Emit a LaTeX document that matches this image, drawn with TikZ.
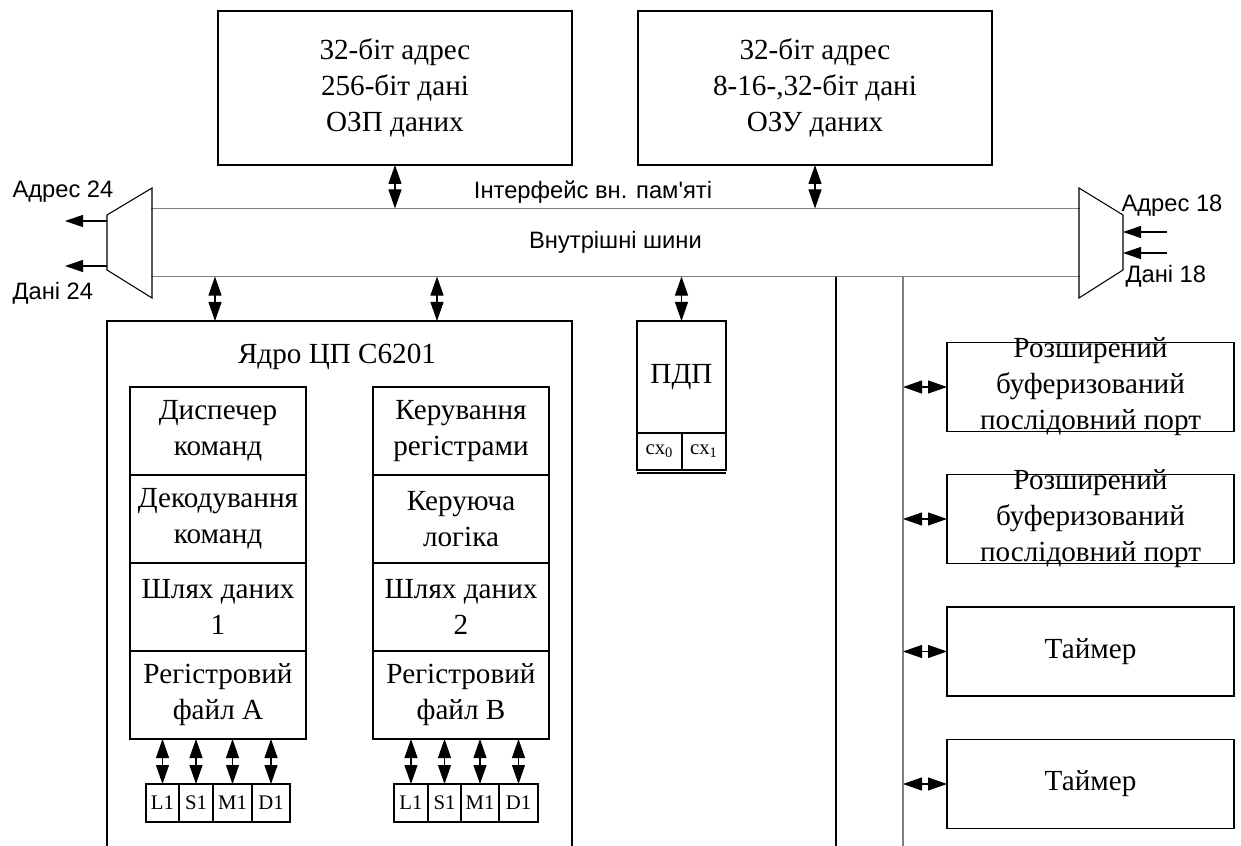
\documentclass[tikz,border=0pt]{standalone}
\usepackage{fontspec}
\setmainfont{Liberation Serif}
\newfontfamily\arialfont{Liberation Sans}[Ligatures=TeXOff]
\usetikzlibrary{arrows.meta,positioning,calc}

\begin{document}
\begin{tikzpicture}[
  line width=0.6pt,
  txt/.style={font=\fontsize{16.6}{20.5}\selectfont,align=center,inner sep=0pt},
  box/.style={draw,txt,outer sep=0pt},
  membox/.style={box,minimum width=7.08cm,minimum height=3.08cm},
  cell/.style={box,minimum width=3.52cm,minimum height=1.76cm},
  portbox/.style={box,minimum width=5.74cm,minimum height=1.78cm},
  fu/.style={draw,outer sep=0pt,inner sep=0pt,minimum height=0.76cm,
    font=\fontsize{11.8}{13}\selectfont},
  sans/.style={font=\arialfont\fontsize{13.5}{16}\selectfont,inner sep=0pt},
  busline/.style={draw=black!50},
  biarrow/.style={{Triangle[length=0.38cm,width=0.26cm]}-{Triangle[length=0.38cm,width=0.26cm]}},
  outarrow/.style={-{Triangle[length=0.36cm,width=0.24cm]}}
]
  \useasboundingbox (0,0) rectangle (24.82,-16.92);

  % memories on top
  \node[membox] (ozp) at (7.9,-1.76) {32-біт адрес\\256-біт дані\\ОЗП даних};
  \node[membox] (ozu) at (16.3,-1.76) {32-біт адрес\\8-16-,32-біт дані\\ОЗУ даних};

  % internal bus
  \node[sans,minimum width=18.54cm,minimum height=1.34cm] (bus) at (12.31,-4.85) {Внутрішні шини};
  \draw[busline] (bus.north west) -- (bus.north east);
  \draw[busline] (bus.south west) -- (bus.south east);
  \node[sans] (iface) at (11.86,-3.84) {Інтерфейс вн. пам'яті};

  \draw[biarrow] (ozp.south) -- (ozp.south |- bus.north);
  \draw[biarrow] (ozu.south) -- (ozu.south |- bus.north);

  % multiplexers at both ends
  \draw (3.04,-3.76) -- (3.04,-5.96) -- (2.14,-5.4) -- (2.14,-4.3) -- cycle;
  \draw (21.58,-3.76) -- (21.58,-5.96) -- (22.46,-5.4) -- (22.46,-4.3) -- cycle;
  \coordinate (a24) at (2.14,-4.42);
  \coordinate (a24e) at (1.3,-4.42);
  \coordinate (d24) at (2.14,-5.32);
  \coordinate (d24e) at (1.3,-5.32);
  \coordinate (a18) at (22.46,-4.64);
  \coordinate (a18s) at (23.34,-4.64);
  \coordinate (d18) at (22.46,-5.06);
  \coordinate (d18s) at (23.34,-5.06);
  \draw[outarrow] (a24) -- (a24e);
  \draw[outarrow] (d24) -- (d24e);
  \draw[outarrow] (a18s) -- (a18);
  \draw[outarrow] (d18s) -- (d18);
  \node[sans,anchor=west] (la24) at (0.24,-3.84) {Адрес 24};
  \node[sans,anchor=west] (ld24) at (0.24,-5.86) {Дані 24};
  \node[sans,anchor=west] (la18) at (22.42,-4.12) {Адрес 18};
  \node[sans,anchor=west] (ld18) at (22.5,-5.52) {Дані 18};

  % CPU core
  \node[minimum width=9.3cm,minimum height=10.5cm,outer sep=0pt] (core) at (6.79,-11.67) {};
  \draw (core.south west) |- (core.north east) -- (core.south east);
  \node[txt] (title) at (6.74,-7.14) {Ядро ЦП С6201};
  \coordinate (k1) at (4.3,0);
  \coordinate (k2) at (8.74,0);
  \draw[biarrow] (k1 |- bus.south) -- (k1 |- core.north);
  \draw[biarrow] (k2 |- bus.south) -- (k2 |- core.north);

  \node[cell] (disp) at (4.36,-8.62) {Диспечер\\команд};
  \node[cell,below=0pt of disp] (dec) {Декодування\\команд};
  \node[cell,below=0pt of dec] (path1) {Шлях даних\\1};
  \node[cell,below=0pt of path1] (rega) {Регістровий\\файл A};

  \node[cell] (regctl) at (9.22,-8.62) {Керування\\регістрами};
  \node[cell,below=0pt of regctl] (logic) {Керуюча\\логіка};
  \node[cell,below=0pt of logic] (path2) {Шлях даних\\2};
  \node[cell,below=0pt of path2] (regb) {Регістровий\\файл B};

  \node[fu,minimum width=0.66cm] (l1a) at (3.25,-16.06) {L1};
  \node[fu,minimum width=0.68cm,right=0pt of l1a] (s1a) {S1};
  \node[fu,minimum width=0.78cm,right=0pt of s1a] (m1a) {M1};
  \node[fu,minimum width=0.76cm,right=0pt of m1a] (d1a) {D1};
  \node[fu,minimum width=0.68cm] (l1b) at (8.22,-16.06) {L1};
  \node[fu,minimum width=0.66cm,right=0pt of l1b] (s1b) {S1};
  \node[fu,minimum width=0.76cm,right=0pt of s1b] (m1b) {M1};
  \node[fu,minimum width=0.78cm,right=0pt of m1b] (d1b) {D1};
  \foreach \u in {l1a,s1a,m1a,d1a}
    \draw[biarrow] (\u.north |- rega.south) -- (\u.north);
  \foreach \u in {l1b,s1b,m1b,d1b}
    \draw[biarrow] (\u.north |- regb.south) -- (\u.north);

  % DMA
  \node[box,minimum width=1.78cm,minimum height=2.24cm] (pdp) at (13.63,-7.54) {ПДП};
  \node[fu,minimum width=0.9cm,minimum height=0.74cm,anchor=north west] (cx0) at (pdp.south west) {cx\textsubscript{0}};
  \node[fu,minimum width=0.88cm,minimum height=0.74cm,right=0pt of cx0] (cx1) {cx\textsubscript{1}};
  \draw ([yshift=-0.06cm]cx0.south west) -- ([yshift=-0.06cm]cx1.south east);
  \draw[biarrow] (pdp.north |- bus.south) -- (pdp.north);

  % peripheral bus
  \coordinate (v1) at (16.72,-16.92);
  \coordinate (v2) at (18.06,-16.92);
  \draw (v1 |- bus.south) -- (v1);
  \draw[busline] (v2 |- bus.south) -- (v2);

  \node[portbox] (sp1) at (21.81,-7.74) {};
  \node[txt] (sp1txt) at (sp1) {Розширений\\буферизований\\послідовний порт};
  \node[portbox] (sp2) at (21.81,-10.38) {};
  \node[txt] (sp2txt) at (sp2) {Розширений\\буферизований\\послідовний порт};
  \node[portbox] (tim1) at (21.81,-13.03) {Таймер};
  \node[portbox] (tim2) at (21.81,-15.68) {Таймер};
  \foreach \u in {sp1,sp2,tim1,tim2}
    \draw[biarrow] (\u.west -| v2) -- (\u.west);
\end{tikzpicture}
\end{document}
